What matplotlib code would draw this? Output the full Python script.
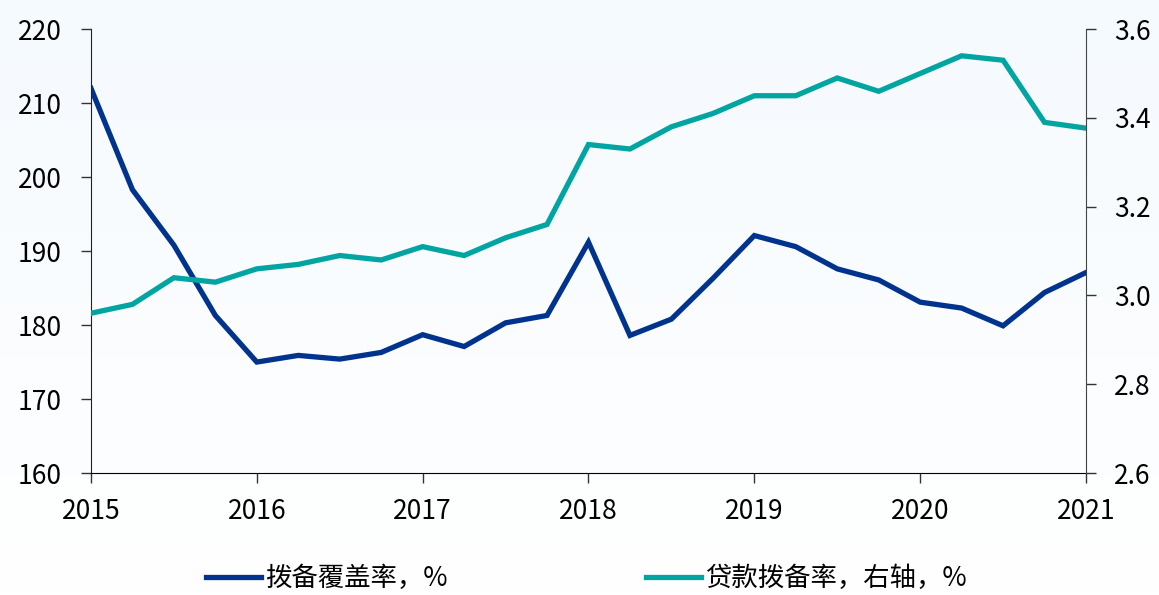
import matplotlib
matplotlib.use("Agg")
import matplotlib.pyplot as plt
import numpy as np

plt.rcParams['font.family'] = ['Noto Sans CJK SC', 'DejaVu Sans']

# quarterly points, 2015 .. 2021
quarters = np.arange(25) / 4 + 2015
coverage = [212.0, 198.3, 190.8, 181.3, 175.0, 175.9, 175.4, 176.3,
            178.7, 177.1, 180.3, 181.3, 191.2, 178.6, 180.8, 186.3,
            192.1, 190.6, 187.6, 186.1, 183.1, 182.3, 179.9, 184.4, 187.1]
loan_ratio = [2.96, 2.98, 3.04, 3.03, 3.06, 3.07, 3.09, 3.08,
              3.11, 3.09, 3.13, 3.16, 3.34, 3.33, 3.38, 3.41,
              3.45, 3.45, 3.49, 3.46, 3.50, 3.54, 3.53, 3.39, 3.377]
year_ticks = [2015, 2016, 2017, 2018, 2019, 2020, 2021]

label_cov = "拨备覆盖率，%"
label_loan = "贷款拨备率，右轴，%"

blue = "#00338D"
teal = "#00A5A2"
fs = 19

fig = plt.figure(figsize=(11.59, 5.95), dpi=100)

# faint blue wash at the top of the picture
bg = fig.add_axes([0, 0, 1, 1], zorder=-10)
grad = np.linspace(1, 0, 256).reshape(-1, 1)
bg.imshow(grad, aspect="auto", cmap=matplotlib.colors.LinearSegmentedColormap.from_list(
    "w", ["#FFFFFF", "#F5FAFE"]), extent=[0, 1, 0, 1])
bg.axis("off")

ax = fig.add_axes([0.0785, 0.205, 0.8585, 0.746])
ax.patch.set_alpha(0)
ax2 = ax.twinx()

l1, = ax.plot(quarters, coverage, color=blue, lw=3.8, solid_joinstyle="miter")
l2, = ax2.plot(quarters, loan_ratio, color=teal, lw=3.8, solid_joinstyle="miter")

ax.set_xlim(2015, 2021)
ax.set_ylim(160, 220)
ax.set_yticks(range(160, 221, 10))
ax2.set_ylim(2.6, 3.6)
ax2.set_yticks([2.6, 2.8, 3.0, 3.2, 3.4, 3.6])
ax2.set_yticklabels([f"{v:.1f}" for v in [2.6, 2.8, 3.0, 3.2, 3.4, 3.6]])
ax.set_xticks(year_ticks)
ax.set_xticklabels([str(y) for y in year_ticks])

for a in (ax, ax2):
    a.spines["top"].set_visible(False)
    a.tick_params(labelsize=fs, length=7.2, width=1, color="#333333")
ax.tick_params(axis="y", pad=14)
ax.tick_params(axis="x", pad=11)
ax2.tick_params(axis="y", pad=13)
ax.spines["right"].set_visible(False)
ax2.spines["left"].set_visible(False)
ax2.spines["bottom"].set_visible(False)
ax2.spines["right"].set_color("#444444")
ax.spines["left"].set_color("#222222")

fig.legend([l1, l2], [label_cov, label_loan], loc="center", ncol=2,
           bbox_to_anchor=(0.506, 0.027), frameon=False, fontsize=fs,
           handlelength=2.1, handletextpad=0.15, columnspacing=7.5)

fig.savefig("out.png", dpi=100)
